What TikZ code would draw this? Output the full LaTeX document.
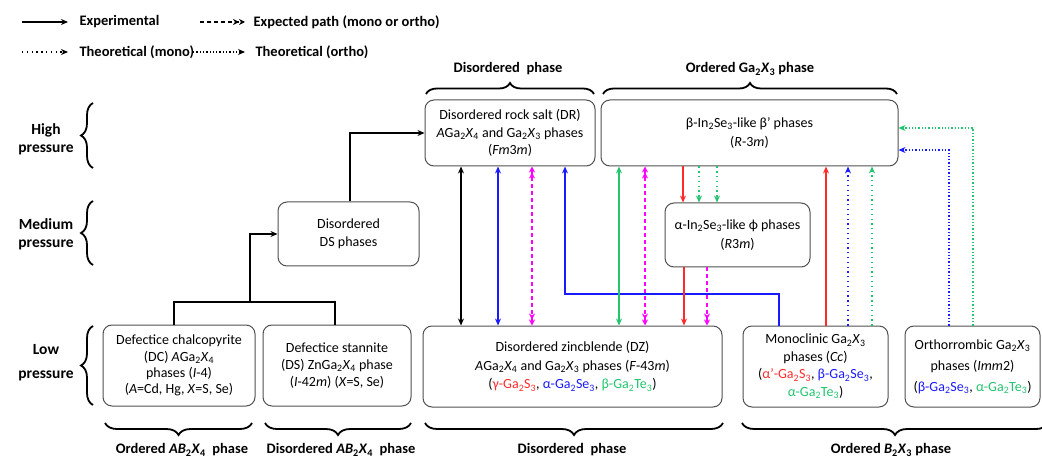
\documentclass[tikz,border=0pt]{standalone}
\usepackage{fontspec}
\setmainfont{Carlito}
\usetikzlibrary{arrows.meta,decorations.pathreplacing}
\definecolor{cred}{HTML}{FF2A2A}
\definecolor{cblue}{HTML}{1A1AFF}
\definecolor{cgreen}{HTML}{22C46E}
\definecolor{cmag}{HTML}{FF00FF}
\definecolor{boxline}{HTML}{505050}
\newcommand{\sbs}[1]{\textsubscript{#1}}
\newcommand{\iX}{\textit{X}}
\begin{document}
\begin{tikzpicture}[x=1pt,y=-1pt,
  phase/.style={draw=boxline,line width=1pt,rounded corners=9pt,align=center,inner sep=0pt,font=\fontsize{14}{17.5}\selectfont},
  lbl/.style={font=\bfseries\fontsize{14.5}{17}\selectfont,align=center},
  plbl/.style={font=\bfseries\fontsize{15.5}{18}\selectfont,align=center},
  tip/.style={-{Stealth[length=7pt,width=6pt]}},
  dtip/.style={{Stealth[length=7pt,width=6pt]}-{Stealth[length=7pt,width=6pt]}},
  ddtip/.style={{Stealth[length=6pt,width=6pt] Stealth[length=6pt,width=6pt]}-{Stealth[length=6pt,width=6pt] Stealth[length=6pt,width=6pt]}},
  ddend/.style={-{Stealth[length=6pt,width=6pt] Stealth[length=6pt,width=6pt]}},
  conn/.style={line width=1.2pt},
  expected/.style={conn,dash pattern=on 4pt off 3pt},
  mono/.style={conn,dash pattern=on 1.3pt off 3.5pt},
  ortho/.style={conn,dash pattern=on 1.3pt off 2pt},
  brc/.style={decorate,decoration={brace,amplitude=12pt},line width=1.8pt},
]
\useasboundingbox (0,0) rectangle (1042,457);

% legend
\coordinate (la1) at (22,22); \coordinate (lb1) at (68,22);
\coordinate (la2) at (200,22); \coordinate (lb2) at (245,22);
\coordinate (la3) at (22,52); \coordinate (lb3) at (68,52);
\coordinate (la4) at (193,52); \coordinate (lb4) at (245,52);
\draw[conn,tip] (la1) -- (lb1);
\draw[expected,ddend] (la2) -- (lb2);
\draw[mono,tip] (la3) -- (lb3);
\draw[ortho,tip] (la4) -- (lb4);
\node[lbl,anchor=west] (t1) at (76,22) {Experimental};
\node[lbl,anchor=west] (t2) at (250,22) {Expected path (mono or ortho)};
\node[lbl,anchor=west] (t3) at (76,52) {Theoretical (mono)};
\node[lbl,anchor=west] (t4) at (252,52) {Theoretical (ortho)};

% pressure labels
\node[plbl] (hp) at (46,139) {High\\pressure};
\node[plbl] (mp) at (46,234) {Medium\\pressure};
\node[plbl] (lp) at (46,363) {Low\\[6pt]pressure};
\draw[brc] (93,168) -- (93,103);
\draw[brc] (93,265) -- (93,201);
\draw[brc] (93,405) -- (93,326);

% boxes
\node[phase,minimum width=152pt,minimum height=81pt,font=\fontsize{14}{16.3}\selectfont] (dc) at (179,365.5)
 {Defectice chalcopyrite\\(DC) \textit{A}Ga\sbs{2}\iX\sbs{4}\\phases (\textit{I}-4)\\(\textit{A}=Cd, Hg, \iX=S, Se)};
\node[phase,minimum width=148pt,minimum height=81pt,font=\fontsize{14}{17}\selectfont] (ds) at (337,365.5)
 {Defectice stannite\\(DS) ZnGa\sbs{2}\iX\sbs{4} phase\\(\textit{I}-42\textit{m}) (\iX=S, Se)};
\node[phase,minimum width=141pt,minimum height=64pt] (dds) at (348.5,234)
 {Disordered\\DS phases};
\node[phase,minimum width=170pt,minimum height=66pt] (dr) at (510,133)
 {Disordered rock salt (DR)\\\textit{A}Ga\sbs{2}\iX\sbs{4} and Ga\sbs{2}\iX\sbs{3} phases\\(\textit{Fm}3\textit{m})};
\node[phase,minimum width=297pt,minimum height=66pt,font=\fontsize{14}{19}\selectfont] (bp) at (749.5,133)
 {β-In\sbs{2}Se\sbs{3}-like β’ phases\\(\textit{R}-3\textit{m})};
\node[phase,minimum width=145pt,minimum height=64pt,font=\fontsize{14}{19}\selectfont] (phi) at (737.5,235)
 {α-In\sbs{2}Se\sbs{3}-like ϕ phases\\(\textit{R}3\textit{m})};
\node[phase,minimum width=299pt,minimum height=81pt,font=\fontsize{14}{18.5}\selectfont] (dz) at (572.5,366.5)
 {Disordered zincblende (DZ)\\\textit{A}Ga\sbs{2}\iX\sbs{4} and Ga\sbs{2}\iX\sbs{3} phases (\textit{F}-43\textit{m})\\(\textcolor{cred}{γ-Ga\sbs{2}S\sbs{3}}, \textcolor{cblue}{α-Ga\sbs{2}Se\sbs{3}}, \textcolor{cgreen}{β-Ga\sbs{2}Te\sbs{3}})};
\node[phase,minimum width=145pt,minimum height=81pt] (mono) at (815.5,366.5)
 {Monoclinic Ga\sbs{2}\iX\sbs{3}\\phases (\textit{Cc})\\(\textcolor{cred}{α'-Ga\sbs{2}S\sbs{3}}, \textcolor{cblue}{β-Ga\sbs{2}Se\sbs{3}},\\\textcolor{cgreen}{α-Ga\sbs{2}Te\sbs{3}})};
\node[phase,minimum width=135pt,minimum height=81pt,font=\fontsize{14}{21}\selectfont] (orth) at (972.5,366.5)
 {Orthorrombic Ga\sbs{2}\iX\sbs{3}\\phases (\textit{Imm}2)\\(\textcolor{cblue}{β-Ga\sbs{2}Se\sbs{3}}, \textcolor{cgreen}{α-Ga\sbs{2}Te\sbs{3}})};

% phase braces
\draw[brc,decoration={amplitude=11pt}] (426,94) -- (594,94);
\node[lbl] (tdis) at (508,69) {Disordered\ \ phase};
\draw[brc,decoration={amplitude=11pt}] (603,94) -- (897,94);
\node[lbl] (tord) at (750,69) {Ordered Ga\sbs{2}\iX\sbs{3} phase};
\draw[brc] (252,423) -- (105,423);
\node[lbl] (boab) at (182,450) {Ordered \textit{AB}\sbs{2}\iX\sbs{4}\ \ phase};
\draw[brc] (411,423) -- (265,423);
\node[lbl] (bdab) at (341,450) {Disordered \textit{AB}\sbs{2}\iX\sbs{4}\ \ phase};
\draw[brc] (723,423) -- (425,423);
\node[lbl] (bdis) at (572,450) {Disordered\ \ phase};
\draw[brc] (1048,423) -- (742,423);
\node[lbl] (bord) at (891,450) {Ordered \textit{B}\sbs{2}\iX\sbs{3} phase};

% experimental black
\draw[conn] (174,0 |- dc.north) |- (335,302) -- (335,0 |- ds.north);
\draw[conn,tip] (250,302) |- (dds.west);
\draw[conn,tip] (350,0 |- dds.north) |- (dr.west);
\draw[conn,dtip] (461,0 |- dr.south) -- (461,0 |- dz.north);

% DR <-> DZ
\draw[conn,cblue,dtip] (498,0 |- dr.south) -- (498,0 |- dz.north);
\draw[expected,cmag,ddtip] (532,0 |- dr.south) -- (532,0 |- dz.north);
\draw[conn,cblue,tip] (779,0 |- mono.north) |- (565,294) -- (565,0 |- dr.south);

% beta' <-> DZ
\draw[conn,cgreen,dtip] (619,0 |- bp.south) -- (619,0 |- dz.north);
\draw[expected,cmag,ddtip] (645,0 |- bp.south) -- (645,0 |- dz.north);

% beta' -> phi -> DZ
\draw[conn,cred,tip] (683,0 |- bp.south) -- (683,0 |- phi.north);
\draw[mono,cgreen,tip] (699,0 |- bp.south) -- (699,0 |- phi.north);
\draw[mono,cgreen,tip] (717,0 |- bp.south) -- (717,0 |- phi.north);
\draw[conn,cred,tip] (684,0 |- phi.south) -- (684,0 |- dz.north);
\draw[expected,cmag,ddend] (707,0 |- phi.south) -- (707,0 |- dz.north);

% monoclinic -> beta'
\draw[conn,cred,tip] (826,0 |- mono.north) -- (826,0 |- bp.south);
\draw[mono,cblue,tip] (848,0 |- mono.north) -- (848,0 |- bp.south);
\draw[mono,cgreen,tip] (872,0 |- mono.north) -- (872,0 |- bp.south);

% orthorhombic -> beta'
\draw[ortho,cblue,tip] (949,0 |- orth.north) |- (bp.east |- 0,150);
\draw[ortho,cgreen,tip] (973,0 |- orth.north) |- (bp.east |- 0,128);
\end{tikzpicture}
\end{document}
